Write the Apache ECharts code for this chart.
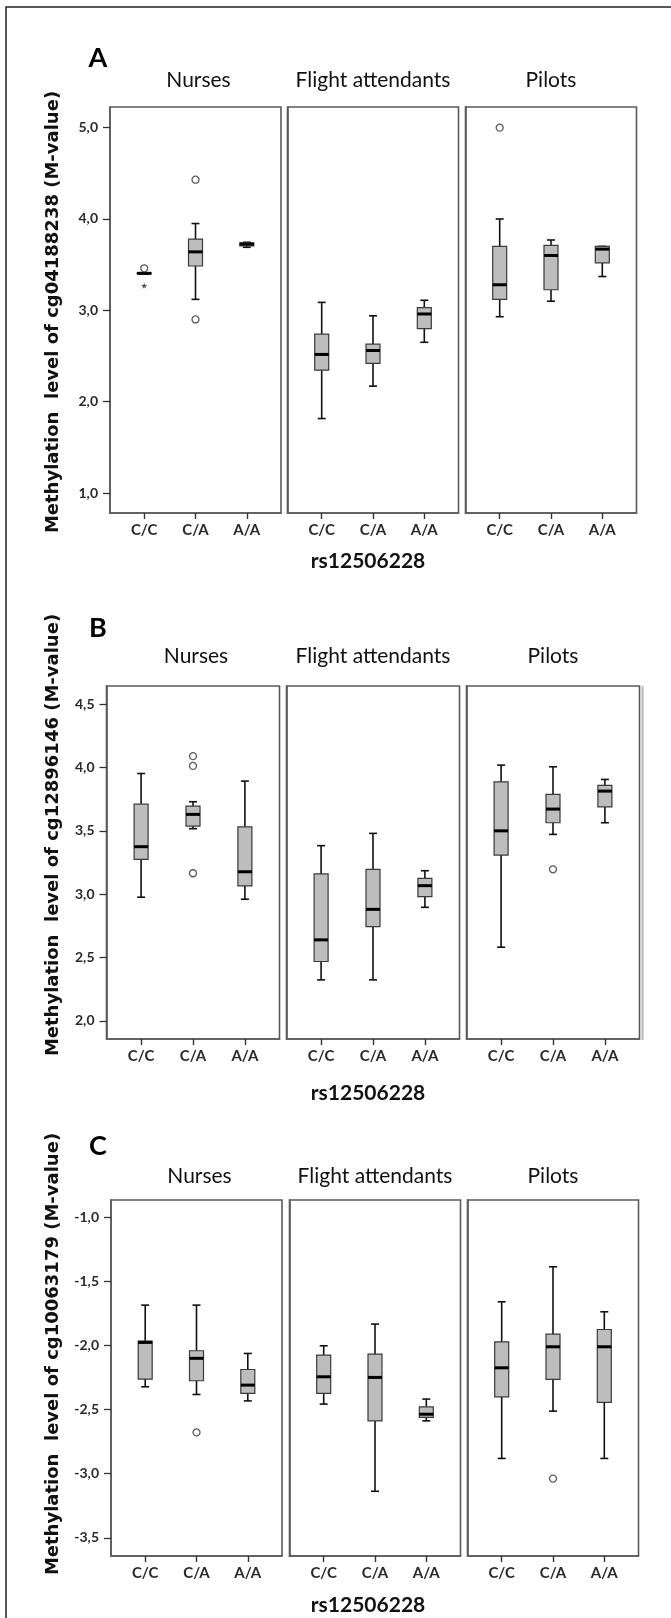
<!DOCTYPE html>
<html><head><meta charset="utf-8">
<script src="https://cdn.jsdelivr.net/npm/echarts@6/dist/echarts.min.js"></script>
<style>html,body{margin:0;padding:0;background:#fff}#c{width:671px;height:1618px}</style>
</head><body><div id="c"></div>
<script>
// ---------------- data ----------------
const genotypes = ['C/C', 'C/A', 'A/A'];
const groups = ['Nurses', 'Flight attendants', 'Pilots'];
const xTitle = 'rs12506228';
const panelLetters = ['A', 'B', 'C'];
const yTitles = [
  'Methylation  level of cg04188238 (M-value)',
  'Methylation  level of cg12896146 (M-value)',
  'Methylation  level of cg10063179 (M-value)'
];
const yTicksA = [1, 2, 3, 4, 5];
const yTicksB = [2, 2.5, 3, 3.5, 4, 4.5];
const yTicksC = [-3.5, -3, -2.5, -2, -1.5, -1];

// each box: [lower whisker, Q1, median, Q3, upper whisker] for C/C, C/A, A/A
const boxA_nurses = [[3.40, 3.40, 3.405, 3.41, 3.41], [3.12, 3.485, 3.64, 3.78, 3.95], [3.69, 3.705, 3.725, 3.74, 3.745]];
const boxA_flight = [[1.815, 2.345, 2.517, 2.74, 3.087], [2.17, 2.42, 2.56, 2.63, 2.94], [2.65, 2.80, 2.96, 3.03, 3.11]];
const boxA_pilots = [[2.93, 3.12, 3.28, 3.70, 4.00], [3.10, 3.225, 3.60, 3.71, 3.77], [3.37, 3.52, 3.67, 3.70, 3.70]];
const outA_nurses = [[0, 3.46], [1, 4.43], [1, 2.90]];
const extA_nurses = [[0, 3.27]];
const outA_flight = [];
const outA_pilots = [[0, 5.0]];

const boxB_nurses = [[2.976, 3.275, 3.375, 3.711, 3.953], [3.517, 3.538, 3.63, 3.696, 3.73], [2.96, 3.065, 3.177, 3.532, 3.893]];
const boxB_flight = [[2.323, 2.468, 2.639, 3.16, 3.383], [2.323, 2.744, 2.88, 3.196, 3.48], [2.896, 2.98, 3.067, 3.125, 3.185]];
const boxB_pilots = [[2.581, 3.309, 3.50, 3.887, 4.019], [3.472, 3.564, 3.672, 3.788, 4.006], [3.564, 3.69, 3.814, 3.859, 3.906]];
const outB_nurses = [[1, 4.09], [1, 4.013], [1, 3.165]];
const outB_flight = [];
const outB_pilots = [[1, 3.196]];

const boxC_nurses = [[-2.322, -2.262, -1.976, -1.966, -1.685], [-2.382, -2.275, -2.10, -2.041, -1.685], [-2.432, -2.374, -2.309, -2.187, -2.062]];
const boxC_flight = [[-2.457, -2.374, -2.244, -2.075, -2.002], [-3.137, -2.588, -2.249, -2.067, -1.833], [-2.588, -2.561, -2.536, -2.478, -2.418]];
const boxC_pilots = [[-2.881, -2.400, -2.174, -1.971, -1.659], [-2.512, -2.265, -2.010, -1.911, -1.386], [-2.881, -2.444, -2.010, -1.875, -1.737]];
const outC_nurses = [[1, -2.678]];
const outC_flight = [];
const outC_pilots = [[1, -3.038]];

// ---------------- layout ----------------
const panels = [
  { boxes: [boxA_nurses, boxA_flight, boxA_pilots], outs: [outA_nurses, outA_flight, outA_pilots], ext: [extA_nurses, [], []],
    ticks: yTicksA, min: 0.781, max: 5.226, top: 107, bottom: 513, lefts: [110, 287.5, 465.5], width: 171,
    letterY: 58, titleY: 80.5, yTitleY: 312, rsY: 561 },
  { boxes: [boxB_nurses, boxB_flight, boxB_pilots], outs: [outB_nurses, outB_flight, outB_pilots], ext: [[], [], []],
    ticks: yTicksB, min: 1.856, max: 4.644, top: 686, bottom: 1039, lefts: [106.5, 286.5, 466.5], width: 173,
    letterY: 628, titleY: 656, yTitleY: 835, rsY: 1093, shadow: true },
  { boxes: [boxC_nurses, boxC_flight, boxC_pilots], outs: [outC_nurses, outC_flight, outC_pilots], ext: [[], [], []],
    ticks: yTicksC, min: -3.642, max: -0.865, top: 1200, bottom: 1556, lefts: [111, 289.5, 467.5], width: 171,
    letterY: 1146, titleY: 1176, yTitleY: 1354, rsY: 1605 }
];

const LABEL_FONT = 'Lato';
const grids = [], xAxes = [], yAxes = [], series = [], graphics = [];

graphics.push({ type: 'rect', shape: { x: 6, y: 7, width: 720, height: 1700 },
  style: { fill: 'none', stroke: '#222', lineWidth: 1.5 }, silent: true });

function renderBox(params, api) {
  const xi = api.value(0);
  const pl = api.coord([xi, api.value(1)]);
  const p1 = api.coord([xi, api.value(2)]);
  const pm = api.coord([xi, api.value(3)]);
  const p3 = api.coord([xi, api.value(4)]);
  const ph = api.coord([xi, api.value(5)]);
  const cx = pl[0], hw = 7, cap = 4;
  const ws = { stroke: '#111', lineWidth: 1.6 };
  return { type: 'group', children: [
    { type: 'line', shape: { x1: cx, y1: pl[1], x2: cx, y2: p1[1] }, style: ws },
    { type: 'line', shape: { x1: cx, y1: p3[1], x2: cx, y2: ph[1] }, style: ws },
    { type: 'line', shape: { x1: cx - cap, y1: pl[1], x2: cx + cap, y2: pl[1] }, style: ws },
    { type: 'line', shape: { x1: cx - cap, y1: ph[1], x2: cx + cap, y2: ph[1] }, style: ws },
    { type: 'rect', shape: { x: cx - hw, y: p3[1], width: 2 * hw, height: Math.max(p1[1] - p3[1], 0.5) },
      style: { fill: '#bdbdbd', stroke: '#3a3a3a', lineWidth: 1.2 } },
    { type: 'line', shape: { x1: cx - hw, y1: pm[1], x2: cx + hw, y2: pm[1] }, style: { stroke: '#000', lineWidth: 3 } }
  ] };
}

const starPath = 'path://M0,-10 L2.4,-3.3 9.5,-3.1 3.9,1.3 5.9,8.1 0,4.1 -5.9,8.1 -3.9,1.3 -9.5,-3.1 -2.4,-3.3 Z';

panels.forEach((p, pi) => {
  for (let g = 0; g < 3; g++) {
    const gi = pi * 3 + g;
    grids.push({ left: p.lefts[g], top: p.top, width: p.width, height: p.bottom - p.top,
      show: true, borderColor: '#5a5a5a', borderWidth: 1.6, backgroundColor: 'transparent' });
    xAxes.push({ gridIndex: gi, type: 'value', min: -2 / 3, max: 8 / 3, position: 'bottom',
      axisLine: { show: true, onZero: false, lineStyle: { color: '#5a5a5a', width: 1.6 } },
      splitLine: { show: false },
      axisTick: { show: true, customValues: [0, 1, 2], length: 6, lineStyle: { color: '#333', width: 1.4 } },
      axisLabel: { show: true, customValues: [0, 1, 2], formatter: v => genotypes[Math.round(v)],
        margin: 10, fontFamily: LABEL_FONT, fontSize: 15, fontWeight: 'bold', color: '#2a2a2a' } });
    const first = g === 0;
    yAxes.push({ gridIndex: gi, type: 'value', min: p.min, max: p.max, position: 'left',
      axisLine: { show: true, onZero: false, lineStyle: { color: '#5a5a5a', width: 1.6 } },
      splitLine: { show: false },
      axisTick: first ? { show: true, customValues: p.ticks, length: 7, lineStyle: { color: '#333', width: 1.3 } } : { show: false },
      axisLabel: first ? { show: true, customValues: p.ticks, formatter: v => v.toFixed(1).replace('.', ','),
        margin: 12, fontFamily: LABEL_FONT, fontSize: 14, fontWeight: 'bold', color: '#2a2a2a' } : { show: false } });
    series.push({ type: 'custom', xAxisIndex: gi, yAxisIndex: gi, renderItem: renderBox,
      encode: { x: 0, y: [1, 2, 3, 4, 5] }, silent: true,
      data: p.boxes[g].map((b, i) => [i].concat(b)) });
    if (p.outs[g].length) series.push({ type: 'scatter', xAxisIndex: gi, yAxisIndex: gi, symbol: 'circle', symbolSize: 7,
      itemStyle: { color: '#fff', borderColor: '#333', borderWidth: 1.3 }, silent: true, data: p.outs[g] });
    if (p.ext[g].length) series.push({ type: 'scatter', xAxisIndex: gi, yAxisIndex: gi, symbol: starPath, symbolSize: 6,
      itemStyle: { color: '#222' }, silent: true, data: p.ext[g] });
    graphics.push({ type: 'text', x: p.lefts[g] + p.width / 2 + (g === 0 ? 3 : 0), y: p.titleY,
      style: { text: groups[g], font: '21px Lato', fill: '#111', textAlign: 'center', textVerticalAlign: 'middle' } });
  }
  if (p.shadow) {
    const rx = p.lefts[2] + p.width + 3;
    graphics.push({ type: 'line', shape: { x1: rx, y1: p.top, x2: rx, y2: p.bottom + 1 },
      style: { stroke: '#b5b5b5', lineWidth: 2 }, silent: true });
  }
  graphics.push({ type: 'text', x: 98, y: p.letterY,
    style: { text: panelLetters[pi], font: 'bold 27px Lato', fill: '#000', textAlign: 'center', textVerticalAlign: 'middle' } });
  graphics.push({ type: 'text', x: 368, y: p.rsY,
    style: { text: xTitle, font: 'bold 21px Lato', fill: '#111', textAlign: 'center', textVerticalAlign: 'middle' } });
  graphics.push({ type: 'text', x: 53.5, y: p.yTitleY, rotation: Math.PI / 2,
    style: { text: yTitles[pi], font: 'bold 18px "DejaVu Sans"', fill: '#111', textAlign: 'center', textVerticalAlign: 'middle' } });
});

const chart = echarts.init(document.getElementById('c'), null, { renderer: 'canvas' });
chart.setOption({ animation: false, backgroundColor: '#fff', grid: grids, xAxis: xAxes, yAxis: yAxes, series: series, graphic: graphics });
</script></body></html>
